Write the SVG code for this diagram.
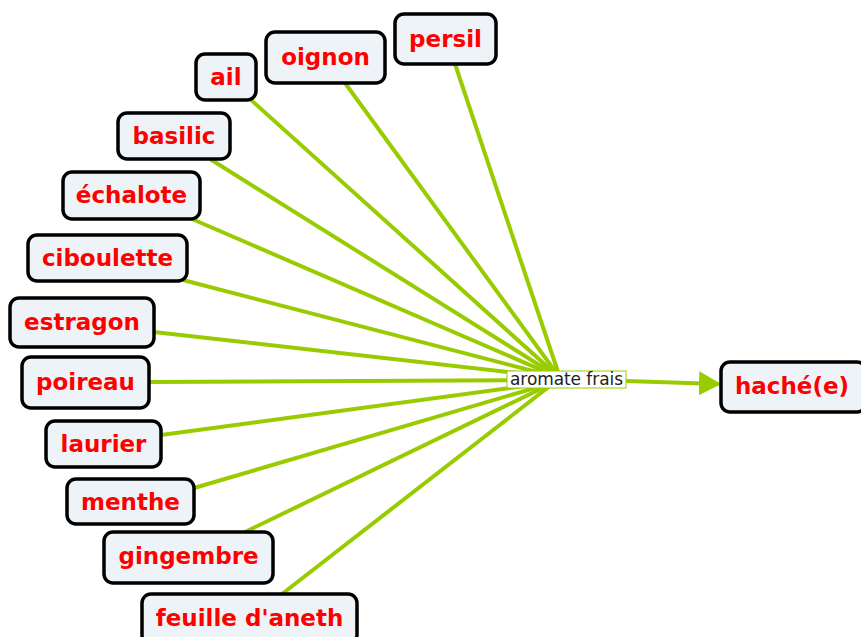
<svg xmlns="http://www.w3.org/2000/svg" width="861" height="637" viewBox="0 0 861 637">
<style>
.n rect{fill:#edf3f6;stroke:#000;stroke-width:3.5}
.n text{font-family:"DejaVu Sans",Verdana,sans-serif;font-weight:bold;font-size:23px;fill:#ff0000;text-anchor:middle}
.c line{stroke:#99cc00;stroke-width:4;fill:none}
.lbl{font-family:"DejaVu Sans",Verdana,sans-serif;font-size:17px;fill:#222}
</style>
<defs>
<marker id="ah" markerWidth="22" markerHeight="24" refX="20" refY="12" orient="auto" markerUnits="userSpaceOnUse">
<path d="M0,0 L22,12 L0,24 Z" fill="#99cc00"/>
</marker>
</defs>
<g id="connectors" class="c">
<line x1="455" y1="64" x2="560" y2="378"/>
<line x1="345" y1="83" x2="560" y2="378"/>
<line x1="250" y1="99" x2="560" y2="378"/>
<line x1="210" y1="159" x2="560" y2="378"/>
<line x1="192" y1="219" x2="560" y2="378"/>
<line x1="183" y1="280" x2="560" y2="378"/>
<line x1="154" y1="332" x2="560" y2="378"/>
<line x1="149" y1="382" x2="560" y2="380"/>
<line x1="161" y1="435" x2="555" y2="382"/>
<line x1="194" y1="488" x2="555" y2="382"/>
<line x1="245" y1="532" x2="555" y2="382"/>
<line x1="282" y1="594" x2="555" y2="382"/>
<line x1="626" y1="381" x2="719" y2="384" marker-end="url(#ah)"/>
</g>
<g id="label-aromate">
<rect x="507" y="371" width="119" height="17" fill="#fff" stroke="#99cc00" stroke-width="1"/>
<text class="lbl" x="566.5" y="385" text-anchor="middle" textLength="113">aromate frais</text>
</g>
<g id="persil" class="n"><rect x="395" y="14" width="101" height="50" rx="9"/><text x="445.5" y="47">persil</text></g>
<g id="oignon" class="n"><rect x="266" y="32" width="119" height="51" rx="9"/><text x="325.5" y="65">oignon</text></g>
<g id="ail" class="n"><rect x="196" y="54" width="60" height="46" rx="9"/><text x="226" y="85">ail</text></g>
<g id="basilic" class="n"><rect x="118" y="113" width="112" height="46" rx="9"/><text x="174" y="144">basilic</text></g>
<g id="echalote" class="n"><rect x="63" y="172" width="137" height="47" rx="9"/><text x="131.5" y="203">échalote</text></g>
<g id="ciboulette" class="n"><rect x="28" y="235" width="159" height="46" rx="9"/><text x="107.5" y="266">ciboulette</text></g>
<g id="estragon" class="n"><rect x="10" y="298" width="144" height="49" rx="9"/><text x="82" y="330">estragon</text></g>
<g id="poireau" class="n"><rect x="22" y="357" width="127" height="51" rx="9"/><text x="85.5" y="390">poireau</text></g>
<g id="laurier" class="n"><rect x="46" y="421" width="115" height="46" rx="9"/><text x="103.5" y="452">laurier</text></g>
<g id="menthe" class="n"><rect x="67" y="479" width="127" height="45" rx="9"/><text x="130.5" y="510">menthe</text></g>
<g id="gingembre" class="n"><rect x="104" y="532" width="169" height="51" rx="9"/><text x="188.5" y="564">gingembre</text></g>
<g id="feuille" class="n"><rect x="142" y="594" width="215" height="50" rx="9"/><text x="249.5" y="626">feuille d'aneth</text></g>
<g id="hache" class="n"><rect x="721" y="362" width="145" height="50" rx="9"/><text x="792" y="394">haché(e)</text></g>
</svg>
